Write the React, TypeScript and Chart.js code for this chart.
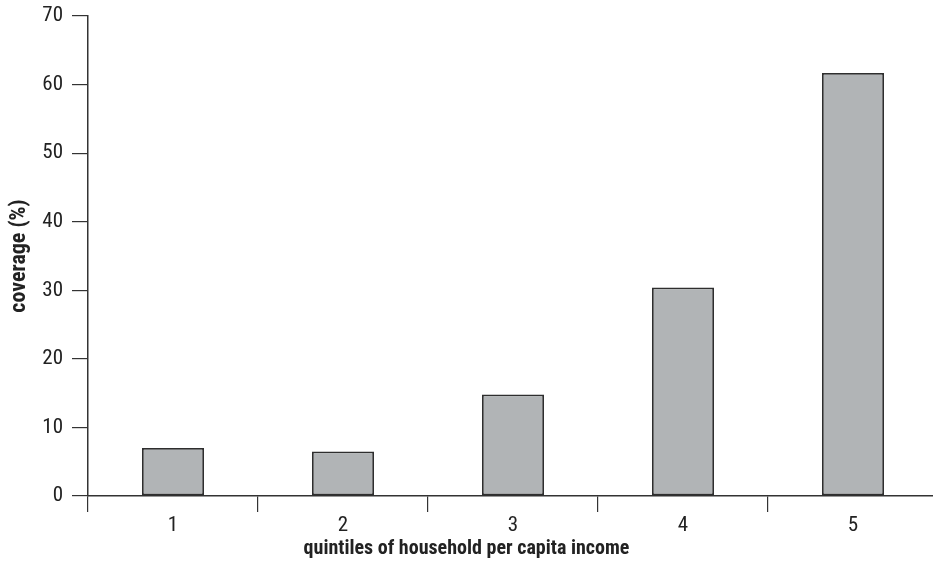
import React, { useEffect, useRef } from "react";
import { Chart, registerables } from "chart.js";

Chart.register(...registerables);

const categories: string[] = ["1", "2", "3", "4", "5"];
const coverage: number[] = [7.0, 6.5, 14.8, 30.4, 61.7];
const yTicks: number[] = [0, 10, 20, 30, 40, 50, 60, 70];
const xTitle = "quintiles of household per capita income";
const yTitle = "coverage (%)";

const FONT = "'Roboto Condensed', 'Open Sans Condensed', sans-serif";
const AXIS = "#333333";
const VIEW_W = 933;

const xTitlePlugin = {
  id: "xTitleCentered",
  afterDraw(chart: any) {
    const ctx = chart.ctx;
    ctx.save();
    ctx.font = `bold 20px ${FONT}`;
    ctx.fillStyle = "#222";
    ctx.textAlign = "center";
    ctx.textBaseline = "middle";
    ctx.fillText(xTitle, VIEW_W / 2, chart.height - 19);
    ctx.restore();
  },
};

export default function App() {
  const ref = useRef<HTMLCanvasElement | null>(null);

  useEffect(() => {
    if (!ref.current) return;
    const chart = new Chart(ref.current, {
      type: "bar",
      data: {
        labels: categories,
        datasets: [
          {
            data: coverage,
            backgroundColor: "#b1b4b6",
            borderColor: "#2e2e2e",
            borderWidth: 1.8,
            borderSkipped: false,
            categoryPercentage: 1,
            barPercentage: 0.365,
          },
        ],
      },
      plugins: [xTitlePlugin],
      options: {
        animation: false,
        responsive: false,
        devicePixelRatio: 1,
        layout: { padding: { top: 16, left: 0, right: 0, bottom: 0 } },
        plugins: { legend: { display: false }, tooltip: { enabled: false } },
        scales: {
          x: {
            grid: {
              display: true,
              drawOnChartArea: false,
              drawTicks: true,
              tickLength: 16,
              color: AXIS,
              lineWidth: 1.2,
              offset: true,
            },
            border: { display: true, color: AXIS, width: 1.5 },
            ticks: {
              color: "#222",
              padding: 1,
              font: { family: FONT, size: 21 },
            },
            title: { display: false },
            afterFit: (s: any) => {
              s.height = 72;
            },
          },
          y: {
            min: 0,
            max: 70,
            afterBuildTicks: (s: any) => {
              s.ticks = yTicks.map((v) => ({ value: v }));
            },
            grid: {
              display: true,
              drawOnChartArea: false,
              drawTicks: true,
              tickLength: 16,
              color: AXIS,
              lineWidth: 1.2,
            },
            border: { display: true, color: AXIS, width: 1.5 },
            ticks: {
              color: "#222",
              padding: 9,
              font: { family: FONT, size: 21 },
            },
            title: {
              display: true,
              text: yTitle,
              color: "#222",
              font: { family: FONT, size: 22, weight: "bold" },
              padding: { top: 6, bottom: 4 },
            },
            afterFit: (s: any) => {
              s.width = 88;
              s.paddingTop = 0;
              s.paddingBottom = 0;
            },
          },
        },
      },
    });
    return () => chart.destroy();
  }, []);

  return (
    <div
      style={{
        position: "absolute",
        left: 0,
        top: 0,
        width: VIEW_W,
        height: 568,
        overflow: "hidden",
        background: "#fff",
      }}
    >
      <canvas ref={ref} width={938} height={568} style={{ width: 938, height: 568, display: "block" }} />
    </div>
  );
}
